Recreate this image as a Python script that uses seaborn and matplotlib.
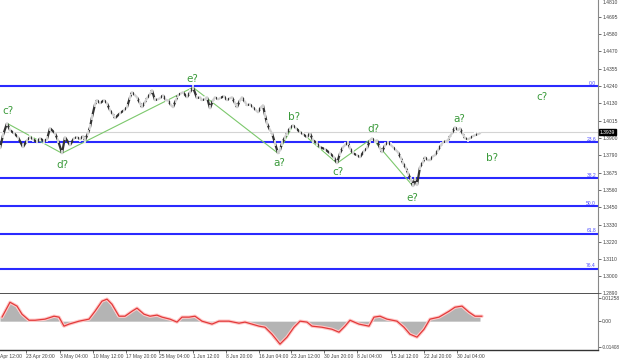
import matplotlib
matplotlib.use('Agg')
import matplotlib.pyplot as plt
import seaborn as sns
import pandas as pd

# ---------------- data ----------------
bar_idx = [0, 3, 7, 10, 14, 18, 23, 27, 30, 33, 37, 40, 44, 47, 50, 55, 58, 62, 65, 70,
           74, 77, 80, 83, 85, 88, 90, 92, 95, 97, 100, 104, 107, 110, 113, 115, 120, 124, 127, 130,
           132, 135, 137, 140, 142, 145, 147, 150, 152, 155, 158, 160, 163, 166, 168, 171, 173, 176, 178, 181,
           183, 187, 190, 193, 197, 200, 202, 205, 207, 210, 213, 215, 218, 220, 224, 227, 230, 232, 235, 237,
           240, 242, 245, 247, 250, 253, 256, 258, 261, 263, 265, 267, 270, 272, 275, 278, 280, 282, 285, 287,
           290, 293, 296, 300, 303, 307, 310, 313, 317, 320, 325, 330, 334, 337, 340, 343, 345, 348, 350, 353,
           357, 360, 364, 367, 370, 372, 375, 377, 380, 382, 385, 388, 391, 393, 396, 398, 401, 403, 406, 408,
           411, 413, 415, 417, 420, 423, 425, 428, 430, 433, 435, 438, 441, 443, 446, 448, 450, 452, 455, 458,
           460, 463, 465, 468, 470, 473, 475, 478, 480]
close = [1.3835, 1.3920, 1.3998, 1.3953, 1.3933, 1.3907, 1.3842, 1.3887, 1.3907, 1.3894, 1.3874, 1.3900, 1.3881, 1.3894, 1.3966, 1.3933, 1.3887, 1.3802, 1.3907, 1.3855,
         1.3900, 1.3907, 1.3894, 1.3914, 1.3887, 1.3933, 1.3972, 1.4038, 1.4122, 1.4149, 1.4129, 1.4149, 1.4129, 1.4083, 1.4057, 1.4031, 1.4064, 1.4083, 1.4103, 1.4168,
         1.4201, 1.4181, 1.4168, 1.4129, 1.4103, 1.4136, 1.4162, 1.4188, 1.4214, 1.4149, 1.4155, 1.4162, 1.4181, 1.4149, 1.4149, 1.4116, 1.4103, 1.4149, 1.4181, 1.4194,
         1.4201, 1.4168, 1.4201, 1.4233, 1.4162, 1.4168, 1.4149, 1.4155, 1.4168, 1.4096, 1.4149, 1.4168, 1.4155, 1.4162, 1.4175, 1.4149, 1.4162, 1.4168, 1.4129, 1.4103,
         1.4149, 1.4168, 1.4136, 1.4116, 1.4122, 1.4103, 1.4083, 1.4070, 1.4103, 1.4116, 1.4051, 1.3998, 1.3953, 1.3933, 1.3868, 1.3802, 1.3822, 1.3868, 1.3907, 1.3933,
         1.3966, 1.3985, 1.3966, 1.3940, 1.3927, 1.3907, 1.3933, 1.3887, 1.3868, 1.3842, 1.3829, 1.3802, 1.3776, 1.3737, 1.3802, 1.3842, 1.3855, 1.3874, 1.3835, 1.3802,
         1.3789, 1.3776, 1.3816, 1.3835, 1.3887, 1.3900, 1.3881, 1.3887, 1.3835, 1.3809, 1.3855, 1.3874, 1.3855, 1.3842, 1.3822, 1.3809, 1.3770, 1.3737, 1.3705, 1.3672,
         1.3626, 1.3587, 1.3639, 1.3594, 1.3711, 1.3744, 1.3776, 1.3757, 1.3757, 1.3783, 1.3789, 1.3822, 1.3855, 1.3874, 1.3881, 1.3887, 1.3914, 1.3933, 1.3972, 1.3953,
         1.3966, 1.3927, 1.3900, 1.3894, 1.3900, 1.3914, 1.3920, 1.3927, 1.3933]

wave_x = [7, 62, 193, 278, 293, 337, 372, 413]
wave_y = [1.3998, 1.3802, 1.4233, 1.3802, 1.3985, 1.3737, 1.3900, 1.3587]

wave_lbl_text = ['c?', 'd?', 'e?', 'a?', 'b?', 'c?', 'd?', 'e?', 'a?', 'b?', 'c?']
wave_lbl_x = [8, 62, 192, 279, 294, 338, 373, 412, 459, 492, 542]
wave_lbl_y = [1.4077, 1.3724, 1.4286, 1.3737, 1.4038, 1.3678, 1.3959, 1.3509, 1.4025, 1.3770, 1.4168]

fib_levels = [1.4240, 1.3874, 1.3639, 1.3456, 1.3274, 1.3045]
fib_names = ['0.0', '23.6', '38.2', '50.0', '61.8', '76.4']

price_ticks = [1.4695, 1.4580, 1.4470, 1.4355, 1.4240, 1.4130, 1.4015, 1.3900,
               1.3790, 1.3675, 1.3560, 1.3450, 1.3330, 1.3220, 1.3110, 1.3000, 1.2890]
top_price_label = '1.4810'
current_price = 1.3940
current_label = '1.3939'

osc_x = [0, 8, 15, 20, 27, 33, 43, 52, 57, 62, 67, 77, 87, 93, 100, 105, 110, 117, 123, 130,
         135, 142, 148, 155, 160, 168, 175, 180, 187, 193, 200, 210, 217, 227, 237, 243, 250, 257, 263, 270,
         278, 285, 292, 298, 305, 310, 320, 330, 337, 343, 348, 357, 367, 372, 378, 385, 395, 402, 408, 415,
         422, 428, 437, 447, 453, 460, 467, 473, 480]
osc_val = [0.0022, 0.0103, 0.0082, 0.0038, 0.0005, 0.0005, 0.0011, 0.0027, 0.0022, -0.0027, -0.0016, 0.0000, 0.0011, 0.0054, 0.0109, 0.0120, 0.0092, 0.0027, 0.0027, 0.0054,
           0.0071, 0.0038, 0.0027, 0.0033, 0.0022, 0.0011, -0.0005, 0.0022, 0.0022, 0.0027, 0.0000, -0.0016, 0.0000, 0.0000, -0.0011, -0.0005, -0.0016, -0.0027, -0.0033, -0.0071,
           -0.0125, -0.0087, -0.0033, 0.0000, -0.0005, -0.0027, -0.0033, -0.0044, -0.0060, -0.0027, 0.0005, -0.0016, -0.0027, 0.0022, 0.0027, 0.0011, 0.0000, -0.0033, -0.0071, -0.0087,
           -0.0044, 0.0011, 0.0022, 0.0054, 0.0076, 0.0082, 0.0049, 0.0027, 0.0027]
osc_ticks = [0.01258, 0.0, -0.01408]
osc_tick_lbl = ['0.01258', '0.00', '-0.01408']

date_tick_x = [0.5, 26, 60, 93, 126, 159, 193, 226, 259, 291, 324, 357, 391, 424, 457]
date_tick_lbl = ['Apr 12:00', '23 Apr 20:00', '3 May 04:00', '10 May 12:00', '17 May 20:00',
                 '25 May 04:00', '1 Jun 12:00', '8 Jun 20:00', '16 Jun 04:00', '23 Jun 12:00',
                 '30 Jun 20:00', '8 Jul 04:00', '15 Jul 12:00', '22 Jul 20:00', '30 Jul 04:00']

# ---------------- style ----------------
sns.set_theme(style='white')
plt.rcParams['font.family'] = ['Liberation Sans', 'DejaVu Sans']

W, H = 620, 361
fig = plt.figure(figsize=(W / 100, H / 100), dpi=100)
fig.patch.set_facecolor('white')
right_px, sep_px, bot_px = 598, 294, 350
ax = fig.add_axes([0, 1 - sep_px / H, right_px / W, sep_px / H])
ax2 = fig.add_axes([0, 1 - bot_px / H, right_px / W, (bot_px - sep_px) / H])

XMIN, XMAX = 0, 598
tick_fs = 3.6
axis_col = '#555555'

# ---------- main price panel ----------
ax.axhline(current_price, color='#d4d4d4', lw=0.8, zorder=1)
for lv in fib_levels:
    ax.axhline(lv, color='#2a2aff', lw=1.5, zorder=2)
for lv, nm in zip(fib_levels, fib_names):
    ax.text(596, lv + 0.0004, nm, ha='right', va='bottom', color='#4a4aff', fontsize=tick_fs, zorder=5)

sns.lineplot(x=wave_x, y=wave_y, ax=ax, color='#7cc86c', lw=0.8, estimator=None, sort=False, zorder=3)
price_df = pd.DataFrame({'bar': bar_idx, 'close': close})
sns.lineplot(data=price_df, x='bar', y='close', ax=ax, color='#333333', lw=1.6,
             estimator=None, sort=False, marker='|', markersize=4.5, markeredgewidth=1.1, zorder=4)

for t, x, y in zip(wave_lbl_text, wave_lbl_x, wave_lbl_y):
    ax.text(x, y, t, ha='center', va='center', color='#3a9a3a', fontsize=7.5,
            family=['DejaVu Sans'], zorder=6)

ax.set_xlim(XMIN, XMAX)
ax.set_ylim(1.2882, 1.4804)
ax.yaxis.tick_right()
ax.set_yticks(price_ticks)
ax.set_yticklabels([f'{v:.4f}' for v in price_ticks])
ax.tick_params(axis='y', labelsize=tick_fs, length=2, width=0.6, color=axis_col,
               labelcolor='#444444', pad=1.2, right=True, left=False)
ax.text(1.0, 0.999, '\u2009' if False else top_price_label, transform=ax.transAxes,
        ha='left', va='top', fontsize=tick_fs, color='#444444', clip_on=False)
ax.texts[-1].set_x(1.0 + 4.5 / right_px)
ax.set_xticks([])
ax.set_xlabel('')
ax.set_ylabel('')
for s in ['left', 'top']:
    ax.spines[s].set_visible(False)
ax.spines['right'].set_color('#888888')
ax.spines['right'].set_linewidth(0.8)
ax.spines['bottom'].set_color('#333333')
ax.spines['bottom'].set_linewidth(1.2)

ax.text(1.003, current_price, current_label, transform=ax.get_yaxis_transform(),
        ha='left', va='center', color='white', fontsize=tick_fs,
        bbox=dict(boxstyle='square,pad=0.15', fc='black', ec='black'), zorder=10, clip_on=False)

# ---------- oscillator panel ----------
ax2.fill_between(osc_x, osc_val, 0, color='#b4b4b4', lw=0, zorder=2)
sig_x = [x + 2 for x in osc_x]
sns.lineplot(x=sig_x, y=osc_val, ax=ax2, color='#ffc8c8', lw=2.4, estimator=None, sort=False, zorder=3)
sns.lineplot(x=sig_x, y=osc_val, ax=ax2, color='#e23a3a', lw=0.9, estimator=None, sort=False, zorder=4)

ax2.set_xlim(XMIN, XMAX)
ax2.set_ylim(-0.0157, 0.0148)
ax2.yaxis.tick_right()
ax2.set_yticks(osc_ticks)
ax2.set_yticklabels(osc_tick_lbl)
ax2.tick_params(axis='y', labelsize=tick_fs, length=2, width=0.6, color=axis_col,
                labelcolor='#444444', pad=0.6, right=True, left=False)
for lbl in ax2.get_yticklabels():
    if lbl.get_text().startswith('-'):
        lbl.set_fontsize(3.3)
ax2.set_xticks(date_tick_x)
ax2.set_xticklabels(date_tick_lbl)
ax2.tick_params(axis='x', labelsize=tick_fs, length=2, width=0.6, color=axis_col,
                labelcolor='#444444', pad=1, bottom=True)
for lbl in ax2.get_xticklabels():
    lbl.set_ha('left')
ax2.xaxis.get_major_ticks()[0].tick1line.set_visible(False)
ax2.set_xlabel('')
ax2.set_ylabel('')
for s in ['left', 'top']:
    ax2.spines[s].set_visible(False)
ax2.spines['right'].set_color('#888888')
ax2.spines['right'].set_linewidth(0.8)
ax2.spines['bottom'].set_color('#333333')
ax2.spines['bottom'].set_linewidth(1.0)

fig.savefig('out.png', dpi=100, facecolor='white')
